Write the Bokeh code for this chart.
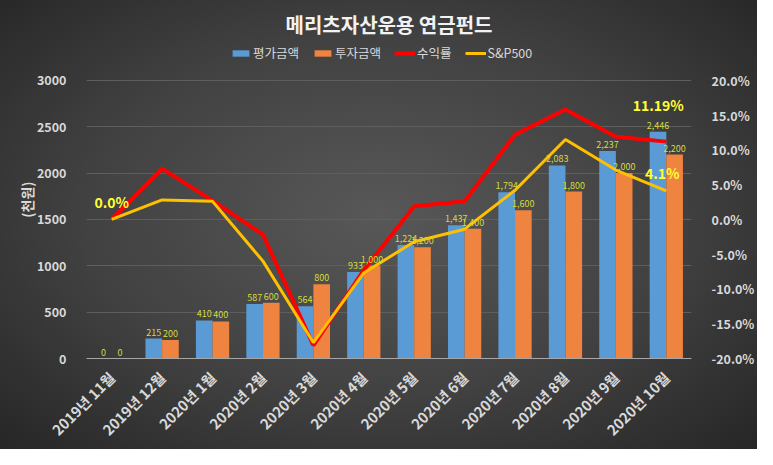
import math
from bokeh.plotting import figure
from bokeh.models import (ColumnDataSource, FactorRange, Range1d, LinearAxis, FixedTicker,
                          PrintfTickFormatter, Legend, LegendItem, LabelSet)
from bokeh.transform import dodge
from bokeh.core.properties import value
from bokeh.embed import file_html
from bokeh.resources import INLINE

months = ["2019년 11월", "2019년 12월", "2020년 1월", "2020년 2월", "2020년 3월", "2020년 4월",
          "2020년 5월", "2020년 6월", "2020년 7월", "2020년 8월", "2020년 9월", "2020년 10월"]
eval_amt = [0, 215, 410, 587, 564, 933, 1224, 1437, 1794, 2083, 2237, 2446]
invest_amt = [0, 200, 400, 600, 800, 1000, 1200, 1400, 1600, 1800, 2000, 2200]
return_pct = [0.0, 7.3, 2.7, -2.2, -18.1, -7.3, 1.9, 2.6, 12.2, 15.8, 11.9, 11.19]
sp500_pct = [0.0, 2.8, 2.6, -6.0, -17.7, -7.7, -3.2, -1.4, 4.2, 11.5, 7.1, 4.1]
left_ticks = [0, 500, 1000, 1500, 2000, 2500, 3000]
right_ticks = [-20, -15, -10, -5, 0, 5, 10, 15, 20]

FONT = "Noto Sans CJK KR"
TXT = "#d9d9d9"
LBL = "#d4dc3c"

# head-room above the top gridline (for the legend), kept proportional on both axes
HEAD = 40.0 / 279.0

src = ColumnDataSource(dict(
    m=months, ev=eval_amt, inv=invest_amt, ret=return_pct, sp=sp500_pct,
    ev_s=[f"{v:,}" for v in eval_amt], inv_s=[f"{v:,}" for v in invest_amt],
))

p = figure(width=757, height=449, x_range=FactorRange(*months, range_padding=0),
           y_range=Range1d(0, 3000 * (1 + HEAD)), output_backend="svg", toolbar_location=None,
           min_border_left=86, min_border_right=64, min_border_top=40, min_border_bottom=90)
p.extra_y_ranges = {"pct": Range1d(-20, 20 + 40 * HEAD)}
p.styles = {"background": "radial-gradient(ellipse at 50% 48%, #585858 0%, #414141 55%, #262626 100%)"}
p.border_fill_color = None
p.background_fill_color = None
p.outline_line_color = None

p.title.text = "메리츠자산운용 연금펀드"
p.title.align = "center"
p.title.text_color = "#f2f2f2"
p.title.text_font = FONT
p.title.text_font_size = "20px"
p.title.text_font_style = "bold"
p.title.standoff = 4

b1 = p.vbar(x=dodge("m", -0.165, range=p.x_range), top="ev", width=0.33, source=src,
            fill_color="#5b9bd5", line_color=None)
b2 = p.vbar(x=dodge("m", 0.165, range=p.x_range), top="inv", width=0.33, source=src,
            fill_color="#ef8440", line_color=None)

l1 = p.line(x="m", y="ret", source=src, y_range_name="pct", line_color="#ff0000", line_width=4)
l2 = p.line(x="m", y="sp", source=src, y_range_name="pct", line_color="#ffc000", line_width=3)

for col, off in (("ev", -0.165), ("inv", 0.165)):
    p.add_layout(LabelSet(x=dodge("m", off, range=p.x_range), y=col, text=col + "_s", source=src,
                          y_offset=3, text_align="center", text_font=value(FONT),
                          text_font_size="9px", text_color=LBL))

big = ColumnDataSource(dict(x=[months[0], months[-1], months[-1]],
                            y=[return_pct[0], return_pct[-1], sp500_pct[-1]],
                            t=["0.0%", "11.19%", "4.1%"],
                            xo=[0, -8, -4], yo=[-7, -27, -8]))
p.text(x="x", y="y", text="t", source=big, y_range_name="pct", x_offset="xo", y_offset="yo",
       text_font=value(FONT), text_font_size="14px", text_font_style="bold",
       text_color="#ffff33", text_align="center", text_baseline="bottom")

# axes
ax = p.yaxis[0]
ax.ticker = FixedTicker(ticks=left_ticks)
ax.axis_label = "(천원)"
ax.axis_label_text_color = TXT
ax.axis_label_text_font = FONT
ax.axis_label_text_font_size = "14px"
ax.axis_label_text_font_style = "bold"
ax.axis_label_standoff = -3

rax = LinearAxis(y_range_name="pct", ticker=FixedTicker(ticks=right_ticks),
                 formatter=PrintfTickFormatter(format="%.1f%%"))
p.add_layout(rax, "right")

for a in (ax, rax):
    a.axis_line_color = None
    a.major_tick_line_color = None
    a.minor_tick_line_color = None
    a.major_label_text_color = TXT
    a.major_label_text_font = FONT
    a.major_label_text_font_size = "12.5px"
    a.major_label_text_font_style = "bold"
    a.major_label_standoff = 14

xa = p.xaxis[0]
xa.axis_line_color = "#a6a6a6"
xa.major_tick_line_color = None
xa.minor_tick_line_color = None
xa.major_label_orientation = math.pi / 4
xa.major_label_text_color = TXT
xa.major_label_text_font = FONT
xa.major_label_text_font_size = "14.5px"
xa.major_label_text_font_style = "bold"
xa.major_label_standoff = 10

p.xgrid.grid_line_color = None
p.ygrid.grid_line_color = "#5e5e5e"
p.ygrid.ticker = FixedTicker(ticks=left_ticks)

legend = Legend(items=[LegendItem(label="평가금액", renderers=[b1]),
                       LegendItem(label="투자금액", renderers=[b2]),
                       LegendItem(label="수익률", renderers=[l1]),
                       LegendItem(label="S&P500", renderers=[l2])],
                orientation="horizontal", location=(144, 296),
                background_fill_alpha=0, border_line_color=None,
                label_text_color=TXT, label_text_font=FONT, label_text_font_size="12.5px",
                glyph_width=21, glyph_height=8, spacing=13, padding=0, margin=0, label_standoff=2)
p.add_layout(legend, "center")

open("out.html", "w").write(file_html(p, INLINE))
